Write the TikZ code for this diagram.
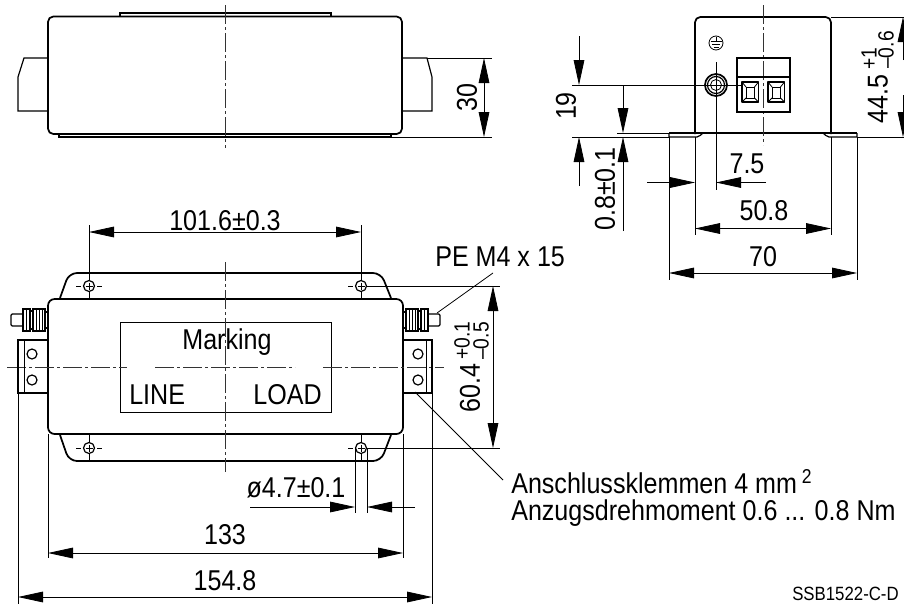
\documentclass[tikz,border=0pt]{standalone}
\usepackage{fontspec}
\setmainfont[FakeStretch=0.875]{Liberation Sans}
\usetikzlibrary{arrows.meta}
\tikzset{
  outline/.style={line width=1.3pt, line join=round},
  thinline/.style={line width=0.6pt},
  midline/.style={line width=0.9pt},
  centerline/.style={line width=0.6pt, black!80, dash pattern=on 14pt off 2.5pt on 2pt off 2.5pt},
  dimline/.style={line width=0.6pt, >={Triangle[length=18.75pt,width=8pt]}},
  dimtext/.style={font=\fontsize{21.5}{24}\selectfont, inner sep=0pt},
  smalltext/.style={font=\fontsize{16.5}{18}\selectfont, inner sep=0pt},
}
\begin{document}
\begin{tikzpicture}[x=0.75pt,y=0.75pt,yscale=-1,xscale=1]
\useasboundingbox (0,0) rectangle (904,604);

%Top view
\draw [midline] (120,16) -- (120,13) -- (331,13) -- (331,16);
\draw [midline] (59,134) -- (59,137) -- (391,137) -- (391,134);
\draw [outline, rounded corners=4pt] (48,134) -- (48,16.5) -- (402,16.5) -- (402,134) -- cycle;
\draw [midline] (48,58) -- (24,58) -- (18,77) -- (18,111) -- (48,111);
\draw [midline] (402,58) -- (427,58) -- (432,77) -- (432,111) -- (402,111);
\draw [centerline] (225,5) -- (225,148);
%Dimension 30
\draw [thinline] (427,58) -- (492,58);
\draw [thinline] (391,137) -- (492,137);
\draw [dimline, <->] (484,58) -- (484,137);
\node [dimtext, rotate=90] (dimthirty) at (467,97.5) {30};

%Side view
\draw [outline, rounded corners=4pt] (695,134) -- (695,17) -- (831,17) -- (831,134);
\draw [outline] (669,133) -- (857,133);
\draw [midline] (669,133) -- (669,137) -- (697,137) .. controls (700,137) and (701,134) .. (703,133);
\draw [midline] (857,133) -- (857,137) -- (829,137) .. controls (826,137) and (825,134) .. (823,133);
\draw [centerline] (763,5) -- (763,145);
%Terminal block
\draw [midline] (737,58) rectangle (790,112);
\draw [midline] (737,77) -- (790,77);
\foreach \sx in {742,768}{
  \draw [outline] (\sx,82) rectangle +(16.5,20);
  \draw [thinline] (\sx+4,87) rectangle +(8.5,11);
  \draw [thinline] (\sx,82) -- +(4,5) (\sx+16.5,82) -- +(-4,5) (\sx,102) -- +(4,-4) (\sx+16.5,102) -- +(-4,-4);
}
%Earth mark and screw
\draw [thinline] (716,43) circle [radius=7];
\draw [thinline] (716,37) -- (716,41) (710.5,41.5) -- (721.5,41.5) (712,44.5) -- (720,44.5) (713.5,47.5) -- (718.5,47.5);
\draw [outline] (716,85) circle [radius=11];
\draw [midline] (716,85) circle [radius=8.5];
\draw [thinline] (716,85) circle [radius=5.5];
\draw [thinline] (716,62) -- (716,190);
\draw [thinline] (572,85) -- (742,85);
%Dimensions of the side view
\draw [thinline] (831,17) -- (904,17);
\draw [thinline] (857,137) -- (904,137);
\draw [thinline] (572,137) -- (669,137);
\draw [thinline] (617,133) -- (669,133);
\draw [thinline] (695,137) -- (695,235);
\draw [thinline] (831,137) -- (831,235);
\draw [thinline] (669,137) -- (669,280);
\draw [thinline] (857,137) -- (857,280);
\draw [dimline, ->] (579,36) -- (579,85);
\draw [dimline, ->] (579,186) -- (579,137);
\draw [dimline, ->] (623,86) -- (623,133);
\draw [dimline, ->] (623,231) -- (623,137);
\draw [dimline, ->] (647,182.5) -- (695,182.5);
\draw [dimline, ->] (766,182.5) -- (716,182.5);
\draw [dimline, <->] (695,228.5) -- (831,228.5);
\draw [dimline, <->] (669,273) -- (857,273);
\draw [dimline, ->] (903,60) -- (903,17);
\draw [dimline, ->] (903,95) -- (903,137);
\node [dimtext, rotate=90] (dimnineteen) at (566,106) {19};
\node [dimtext, rotate=90] (dimflange) at (605,189) {0.8±0.1};
\node [dimtext] (dimoffset) at (747,164) {7.5};
\node [dimtext] (dimholes) at (764,211) {50.8};
\node [dimtext] (dimwidth) at (763,257) {70};
\node [dimtext, rotate=90, anchor=west] (dimheight) at (878,124) {44.5};
\node [smalltext, rotate=90, anchor=west] (dimheightup) at (869,70) {+1};
\node [smalltext, rotate=90, anchor=west] (dimheightlow) at (886,69) {–0.6};

%Front view
\draw [outline, rounded corners=6pt] (60,298) -- (69,273) -- (381,273) -- (391,298);
\draw [outline, rounded corners=6pt] (60,435) -- (69,461) -- (381,461) -- (391,435);
\draw [outline, rounded corners=5pt] (48,299) rectangle (403,434);
\draw [thinline] (120,322) rectangle (331,412);
%Mounting holes
\foreach \hx/\hy in {89/286,361/286,89/448,361/448}{
  \draw [midline] (\hx,\hy) circle [radius=5.5];
  \draw [thinline] (\hx-3.5,\hy) -- (\hx+3.5,\hy) (\hx,\hy-3.5) -- (\hx,\hy+3.5);
  \draw [thinline] (\hx-13,\hy) -- (\hx-8,\hy);
}
\draw [thinline] (97,286) -- (102,286);
\draw [thinline] (97,448) -- (102,448);
\draw [thinline] (89,225) -- (89,280.5) (89,291.5) -- (89,299);
\draw [thinline] (361,225) -- (361,280.5) (361,291.5) -- (361,299);
\draw [thinline] (89,434) -- (89,442.5) (89,453.5) -- (89,461);
\draw [thinline] (361,434) -- (361,442.5) (361,453.5) -- (361,461);
\draw [thinline] (366.5,286) -- (500,286);
\draw [thinline] (366.5,448) -- (500,448);
%Centre lines
\draw [centerline] (225,262) -- (225,472);
\draw [centerline] (7,367) -- (127,367);
\draw [centerline] (155,367) -- (295,367);
\draw [centerline] (323,367) -- (444,367);
%Brackets
\draw [midline] (48,340) -- (18,340) -- (18,393) -- (48,393);
\draw [thinline] (24,340) -- (24,393);
\draw [midline] (403,340) -- (432,340) -- (432,393) -- (403,393);
\draw [thinline] (426.5,340) -- (426.5,393);
\foreach \cx in {32,418}{
  \draw [midline] (\cx,354) circle [radius=5];
  \draw [midline] (\cx,380) circle [radius=5];
}
%Studs
\foreach \sx/\dir in {0/1,451/-1}{
  \begin{scope}[shift={(\sx,0)},xscale=\dir]
    \draw [midline, rounded corners=1pt] (23,314) -- (11,314) -- (11,326) -- (23,326);
    \draw [midline] (23,309) rectangle (30,331);
    \draw [midline] (30,311) rectangle (33,329);
    \draw [midline] (33,309) rectangle (45,331);
    \draw [thinline] (26.5,309) -- (26.5,331) (39,309) -- (39,331) (36,309) -- (36,331) (42,309) -- (42,331);
    \draw [midline] (45,312) rectangle (48,328);
  \end{scope}
}
%Extension lines under the front view
\draw [thinline] (18,393) -- (18,604);
\draw [thinline] (432,393) -- (432,604);
\draw [thinline] (48,434) -- (48,558);
\draw [thinline] (403,434) -- (403,558);
\draw [thinline] (355,448) -- (355,513);
\draw [thinline] (367,448) -- (367,513);
%Leaders
\draw [thinline] (437,313) -- (493,273);
\draw [thinline] (415,392) -- (503,480);
%Dimensions of the front view
\draw [dimline, <->] (89,232) -- (361,232);
\draw [dimline, <->] (493,286) -- (493,448);
\draw [dimline, ->] (250,507) -- (355,507);
\draw [dimline, ->] (415,507) -- (367,507);
\draw [dimline, <->] (48,553) -- (403,553);
\draw [dimline, <->] (18,597) -- (432,597);
% Text Node
\node [dimtext] (dimspacing) at (225,221) {101.6±0.3};
\node [dimtext] (dimbore) at (296,488) {ø4.7±0.1};
\node [dimtext] (dimfixing) at (225,535) {133};
\node [dimtext] (dimlength) at (225,581) {154.8};
\node [dimtext, rotate=90] (dimdepth) at (470,388) {60.4};
\node [smalltext, rotate=90, anchor=west] (dimdepthup) at (462,360) {+0.1};
\node [smalltext, rotate=90, anchor=west] (dimdepthlow) at (481,360) {–0.5};
\node [dimtext] (markinglabel) at (227,342) {Marking};
\node [dimtext, anchor=west] (linelabel) at (129,395) {LINE};
\node [dimtext, anchor=east] (loadlabel) at (322,395) {LOAD};
\node [dimtext, anchor=west] (pelabel) at (435,257) {PE M4 x 15};
\node [dimtext, anchor=west] (terminallabel) at (511,482) {Anschlussklemmen 4 mm\,\textsuperscript{2}};
\node [dimtext, anchor=west] (torquelabel) at (511,513) {Anzugsdrehmoment 0.6 ... 0.8 Nm};
\node [font=\fontsize{14.4}{16}\selectfont, inner sep=0pt, anchor=west] (codelabel) at (792,594) {SSB1522-C-D};

\end{tikzpicture}
\end{document}
